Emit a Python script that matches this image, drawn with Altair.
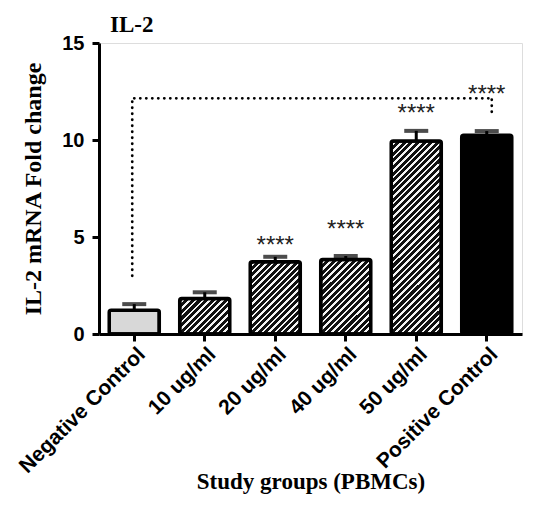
import altair as alt
import pandas as pd

# ---- data ----
groups = ["Negative Control", "10 ug/ml", "20 ug/ml", "40 ug/ml", "50 ug/ml", "Positive Control"]
means = [1.22, 1.83, 3.72, 3.84, 9.95, 10.25]
errors = [0.32, 0.32, 0.26, 0.18, 0.52, 0.21]
patterns = ["dots", "hatch", "hatch", "hatch", "hatch", "solid"]

star_groups = ["20 ug/ml", "40 ug/ml", "50 ug/ml", "Positive Control"]
star_y = [4.85, 5.67, 11.66, 12.64]
star_text = ["****", "****", "****", "****"]

bracket_from = "Negative Control"
bracket_to = "Positive Control"
bracket_top = 12.15
bracket_left_bottom = 3.0
bracket_right_bottom = 11.45

y_ticks = [0, 5, 10, 15]

# ---- layout / style ----
W, H = 423, 291
YMAX = 15
BAR_W = 50

df = pd.DataFrame({"group": groups, "mean": means, "err": errors, "pattern": patterns})
df["upper"] = df["mean"] + df["err"]

stars = pd.DataFrame({"group": star_groups, "y": star_y, "txt": star_text})
hline = pd.DataFrame({"a": [bracket_from], "b": [bracket_to], "y": [bracket_top]})
lv = pd.DataFrame({"group": [bracket_from], "y": [bracket_left_bottom], "y2": [bracket_top]})
rv = pd.DataFrame({"group": [bracket_to], "y": [bracket_right_bottom], "y2": [bracket_top]})


def hatch(value, w=BAR_W, period=4.6, frac=0.62):
    h = max(value * H / YMAX, 1)
    s = (w + h) / (w * w + h * h)
    n = max(1, round((w + h) / (period * 2 ** 0.5)))
    stops = []
    for k in range(n):
        a = k / n
        b = (k + frac) / n
        c = (k + 1) / n
        stops += [
            alt.GradientStop(offset=a, color="#111111"),
            alt.GradientStop(offset=b, color="#111111"),
            alt.GradientStop(offset=b, color="#f4f4f4"),
            alt.GradientStop(offset=c, color="#f4f4f4"),
        ]
    return alt.LinearGradient(gradient="linear", x1=0, y1=0, x2=w * s, y2=h * s, stops=stops)


xscale = alt.Scale(domain=groups, paddingInner=0.29, paddingOuter=0.145)
yscale = alt.Scale(domain=[0, YMAX], nice=False, zero=True)

xaxis = alt.Axis(
    title="Study groups (PBMCs)",
    titleFont="Liberation Serif", titleFontSize=23, titleFontWeight="bold", titleColor="black",
    titleY=154, titleBaseline="alphabetic",
    labelAngle=-45, labelAlign="right", labelBaseline="top",
    labelFont="Liberation Sans", labelFontSize=21, labelFontWeight="bold", labelColor="black",
    labelPadding=2,
    domainColor="black", domainWidth=3, tickColor="black", tickWidth=3, tickSize=7,
)
yaxis = alt.Axis(
    title="IL-2 mRNA Fold change", values=y_ticks,
    titleFont="Liberation Serif", titleFontSize=24, titleFontWeight="bold", titleColor="black",
    titleX=-66, titleY=H / 2, titleAngle=270, titleAlign="center", titleBaseline="middle",
    labelFont="Liberation Sans", labelFontSize=20, labelFontWeight="bold", labelColor="black",
    labelPadding=8, grid=False,
    domainColor="black", domainWidth=3, tickColor="black", tickWidth=3, tickSize=7,
)

X = alt.X("group:N", scale=xscale, axis=xaxis, sort=groups)
layers = []
for g, m, p in zip(groups, means, patterns):
    if p == "hatch":
        fill = hatch(m)
    elif p == "solid":
        fill = "#000000"
    else:
        fill = "#d8d8d8"
    layers.append(
        alt.Chart(df).transform_filter(alt.FieldEqualPredicate(field="group", equal=g))
        .mark_bar(fill=fill, stroke="black", strokeWidth=3.5, cornerRadius=2)
        .encode(x=X, y=alt.Y("mean:Q", scale=yscale, axis=yaxis))
    )

err_rule = alt.Chart(df).mark_rule(color="black", strokeWidth=3).encode(
    x=X, y=alt.Y("mean:Q", scale=yscale, axis=yaxis), y2="upper:Q"
)
err_cap = alt.Chart(df).mark_tick(color="black", size=24, thickness=4).encode(
    x=X, y=alt.Y("upper:Q", scale=yscale, axis=yaxis)
)

dot_style = dict(color="black", strokeWidth=2.8, strokeDash=[0.1, 5.9], strokeCap="round")
h_rule = alt.Chart(hline).mark_rule(x2Offset=5, **dot_style).encode(
    x=alt.X("a:N", scale=xscale, axis=xaxis, sort=groups), x2="b:N",
    y=alt.Y("y:Q", scale=yscale, axis=yaxis),
)
l_rule = alt.Chart(lv).mark_rule(xOffset=-2, **dot_style).encode(
    x=X, y=alt.Y("y:Q", scale=yscale, axis=yaxis), y2="y2:Q"
)
r_rule = alt.Chart(rv).mark_rule(xOffset=5, **dot_style).encode(
    x=X, y=alt.Y("y:Q", scale=yscale, axis=yaxis), y2="y2:Q"
)

star_layer = alt.Chart(stars).mark_text(
    font="Liberation Sans", fontSize=24, color="#222222", baseline="middle", dy=6
).encode(x=X, y=alt.Y("y:Q", scale=yscale, axis=yaxis), text="txt:N")

chart = alt.layer(*layers, err_rule, err_cap, h_rule, l_rule, r_rule, star_layer).properties(
    width=W, height=H,
    title=alt.TitleParams("IL-2", anchor="start", frame="group", font="Liberation Serif",
                          fontSize=23, fontWeight="bold", color="black", dx=11, dy=4, offset=0),
    autosize=alt.AutoSizeParams(type="none"),
    padding={"left": 91, "top": 35, "right": 4, "bottom": 160},
).configure_view(stroke=None).configure(background="white")

chart.save("out.html", embed_options={"renderer": "svg", "actions": False})
